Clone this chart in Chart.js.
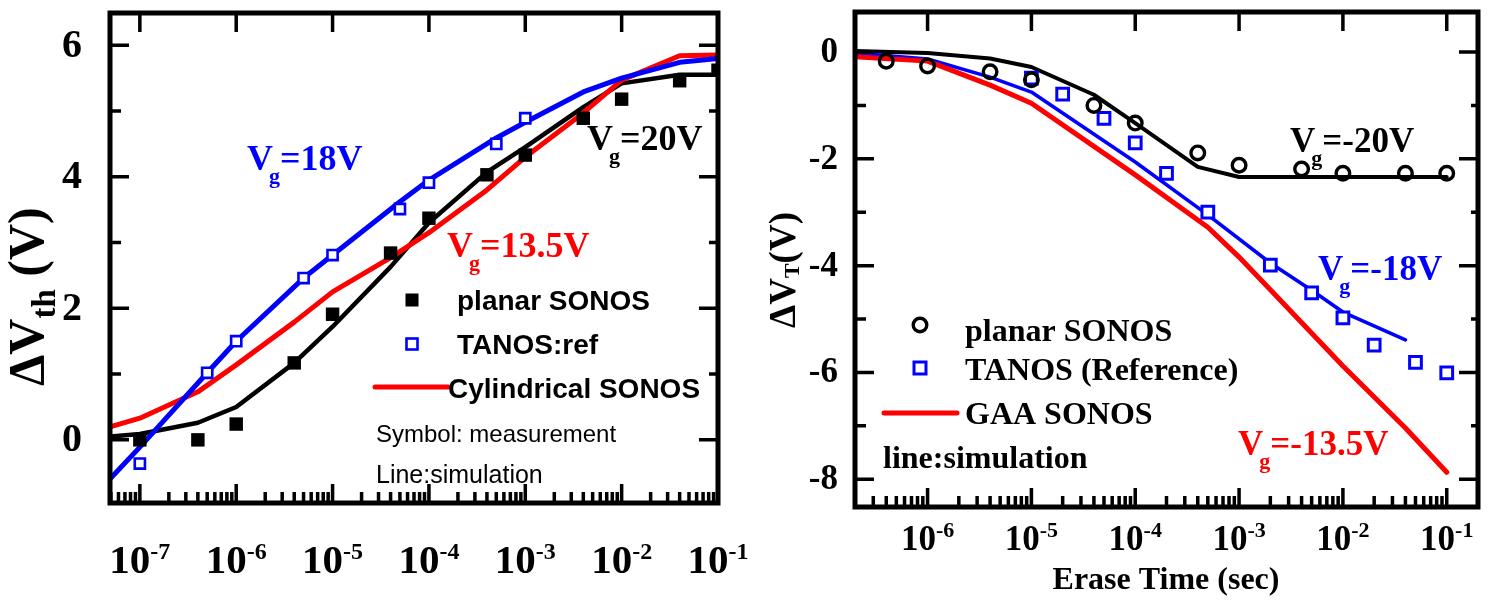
<!DOCTYPE html>
<html>
<head>
<meta charset="utf-8">
<script src="https://cdn.jsdelivr.net/npm/chart.js@4/dist/chart.umd.min.js"></script>
<style>
html, body { margin: 0; padding: 0; background: #fff; }
#wrap { position: relative; width: 1490px; height: 602px; }
canvas { position: absolute; left: 0; top: 0; }
</style>
</head>
<body>
<div id="wrap">
<canvas id="left" width="1490" height="602"></canvas>
<canvas id="right" width="1490" height="602"></canvas>
</div>
<script>
// ---- left panel : program, dVth vs time ----
let leftSimTime = [5e-8, 1e-7, 4e-7, 1e-6, 4e-6, 1e-5, 4e-5, 1e-4, 4e-4, 1e-3, 4e-3, 1e-2, 4e-2, 1e-1]
let leftPlanarSim = [0.05, 0.09, 0.26, 0.50, 1.17, 1.72, 2.63, 3.30, 4.07, 4.45, 5.06, 5.42, 5.55, 5.55]
let leftCylSim = [0.20, 0.33, 0.73, 1.14, 1.79, 2.25, 2.77, 3.15, 3.80, 4.30, 4.97, 5.47, 5.84, 5.85]
let leftTanosSimTime = [5e-8, 1e-7, 5e-7, 1e-6, 5e-6, 1e-5, 5e-5, 1e-4, 5e-4, 1e-3, 4e-3, 1e-2, 4e-2, 1e-1]
let leftTanosSim = [-0.58, -0.11, 1.02, 1.50, 2.46, 2.81, 3.62, 3.95, 4.59, 4.83, 5.29, 5.50, 5.74, 5.80]

let leftPlanarTime = [1e-7, 4e-7, 1e-6, 4e-6, 1e-5, 4e-5, 1e-4, 4e-4, 1e-3, 4e-3, 1e-2, 4e-2, 1e-1]
let leftPlanarMeas = [0, 0, 0.24, 1.17, 1.91, 2.84, 3.37, 4.03, 4.33, 4.89, 5.18, 5.46, 5.62]
let leftTanosTime = [1e-7, 5e-7, 1e-6, 5e-6, 1e-5, 5e-5, 1e-4, 5e-4, 1e-3]
let leftTanosMeas = [-0.36, 1.02, 1.50, 2.46, 2.81, 3.51, 3.91, 4.50, 4.89]

let leftXTicks = [1e-7, 1e-6, 1e-5, 1e-4, 1e-3, 1e-2, 1e-1]
let leftXExp = ['-7', '-6', '-5', '-4', '-3', '-2', '-1']
let leftYTicks = [0, 2, 4, 6]
let leftYLabels = ['0', '2', '4', '6']
let leftYMinor = [1, 3, 5]

// ---- right panel : erase, dVT vs erase time ----
let rightPlanarSimTime = [2e-7, 1e-6, 4e-6, 1e-5, 4e-5, 1e-4, 4e-4, 1e-3, 1e-2, 1e-1]
let rightPlanarSim = [0.02, -0.02, -0.12, -0.28, -0.80, -1.33, -2.15, -2.34, -2.34, -2.34]
let rightTanosSimTime = [2e-7, 1e-6, 4e-6, 1e-5, 1e-4, 5e-4, 2e-3, 5e-3, 1e-2, 4e-2]
let rightTanosSim = [-0.02, -0.13, -0.47, -0.75, -2.06, -3.05, -3.95, -4.46, -4.87, -5.39]
let rightGaaSimTime = [2e-7, 1e-6, 4e-6, 1e-5, 1e-4, 5e-4, 1e-3, 2e-3, 1e-2, 4e-2, 1e-1]
let rightGaaSim = [-0.09, -0.17, -0.62, -0.96, -2.30, -3.28, -3.84, -4.45, -5.88, -7.04, -7.87]

let rightPlanarTime = [4e-7, 1e-6, 4e-6, 1e-5, 4e-5, 1e-4, 4e-4, 1e-3, 4e-3, 1e-2, 4e-2, 1e-1]
let rightPlanarMeas = [-0.17, -0.26, -0.37, -0.52, -1.0, -1.33, -1.89, -2.12, -2.19, -2.27, -2.27, -2.27]
let rightTanosTime = [1e-5, 2e-5, 5e-5, 1e-4, 2e-4, 5e-4, 2e-3, 5e-3, 1e-2, 2e-2, 5e-2, 1e-1]
let rightTanosMeas = [-0.49, -0.79, -1.24, -1.70, -2.27, -3.0, -3.99, -4.51, -4.98, -5.49, -5.81, -6.01]

let rightXTicks = [1e-6, 1e-5, 1e-4, 1e-3, 1e-2, 1e-1]
let rightXExp = ['-6', '-5', '-4', '-3', '-2', '-1']
let rightYTicks = [0, -2, -4, -6, -8]
let rightYLabels = ['0', '-2', '-4', '-6', '-8']
let rightYMinor = [-1, -3, -5, -7]

let SERIF = '"Liberation Serif", "Times New Roman", serif'
let SANS = '"Liberation Sans", Arial, sans-serif'

function pts(xs, ys) {
    return xs.map((x, i) => ({ x: x, y: ys[i] }))
}

function lineSet(label, xs, ys, color, width, order) {
    return {
        label: label, data: pts(xs, ys), showLine: true, pointRadius: 0,
        borderColor: color, borderWidth: width, borderJoinStyle: 'round', borderCapStyle: 'round',
        tension: 0, order: order
    }
}

function markSet(label, xs, ys, style, radius, fill, stroke, width) {
    return {
        label: label, data: pts(xs, ys), showLine: false, pointStyle: style, pointRadius: radius,
        pointBackgroundColor: fill, pointBorderColor: stroke, pointBorderWidth: width, order: 0
    }
}

// V with subscript g, then the rest
function vgText(ctx, x, y, rest, color, size) {
    ctx.fillStyle = color
    ctx.textAlign = 'left'
    ctx.textBaseline = 'alphabetic'
    ctx.font = 'bold ' + size + 'px ' + SERIF
    ctx.fillText('V', x, y)
    let w = ctx.measureText('V').width - 4
    ctx.font = 'bold ' + Math.round(size * 0.62) + 'px ' + SERIF
    ctx.fillText('g', x + w, y + 13)
    w += ctx.measureText('g').width
    ctx.font = 'bold ' + size + 'px ' + SERIF
    ctx.fillText(rest, x + w, y)
}

function axesPlugin(cfg) {
    return {
        id: 'axes' + cfg.name,
        afterDatasetsDraw(chart) {
            let ctx = chart.ctx, a = chart.chartArea
            let xs = chart.scales.x, ys = chart.scales.y
            ctx.save()
            ctx.strokeStyle = '#000'
            ctx.lineCap = 'butt'
            ctx.lineWidth = 3.5
            ctx.beginPath()
            cfg.xTicks.forEach(v => {
                let px = xs.getPixelForValue(v)
                ctx.moveTo(px, a.bottom); ctx.lineTo(px, a.bottom - cfg.tick[0])
                ctx.moveTo(px, a.top); ctx.lineTo(px, a.top + cfg.tick[0])
            })
            let lo = Math.floor(Math.log10(xs.min)), hi = Math.ceil(Math.log10(xs.max))
            for (let e = lo; e <= hi; e++) {
                for (let k = 2; k <= 9; k++) {
                    let v = k * Math.pow(10, e)
                    if (v <= xs.min || v >= xs.max) continue
                    let px = xs.getPixelForValue(v)
                    ctx.moveTo(px, a.bottom); ctx.lineTo(px, a.bottom - cfg.tick[1])
                }
            }
            cfg.yTicks.forEach(v => {
                let py = ys.getPixelForValue(v)
                ctx.moveTo(a.left, py); ctx.lineTo(a.left + cfg.tick[0], py)
                ctx.moveTo(a.right, py); ctx.lineTo(a.right - cfg.tick[0], py)
            })
            cfg.yMinor.forEach(v => {
                let py = ys.getPixelForValue(v)
                ctx.moveTo(a.left, py); ctx.lineTo(a.left + cfg.tick[1], py)
                ctx.moveTo(a.right, py); ctx.lineTo(a.right - cfg.tick[2], py)
            })
            ctx.stroke()
            ctx.lineWidth = 5
            ctx.strokeRect(a.left, a.top, a.right - a.left, a.bottom - a.top)
            ctx.restore()
        },
        afterDraw(chart) {
            let ctx = chart.ctx, a = chart.chartArea
            let xs = chart.scales.x, ys = chart.scales.y
            ctx.save()
            ctx.fillStyle = '#000'
            ctx.textBaseline = 'alphabetic'
            // x tick labels 10^n
            cfg.xTicks.forEach((v, i) => {
                let px = xs.getPixelForValue(v)
                ctx.font = 'bold ' + cfg.xFont + 'px ' + SERIF
                let wb = ctx.measureText('10').width
                ctx.font = 'bold ' + cfg.expFont + 'px ' + SERIF
                let we = ctx.measureText(cfg.xExp[i]).width
                let x0 = px - (wb + we) / 2
                ctx.textAlign = 'left'
                ctx.font = 'bold ' + cfg.xFont + 'px ' + SERIF
                ctx.fillText('10', x0, cfg.xBase)
                ctx.font = 'bold ' + cfg.expFont + 'px ' + SERIF
                ctx.fillText(cfg.xExp[i], x0 + wb, cfg.xBase - cfg.expRaise)
            })
            // y tick labels
            ctx.textAlign = 'right'
            ctx.textBaseline = 'middle'
            ctx.font = 'bold ' + cfg.yFont + 'px ' + SERIF
            cfg.yTicks.forEach((v, i) => {
                ctx.fillText(cfg.yLabels[i], cfg.yRight, ys.getPixelForValue(v) + 1)
            })
            ctx.textBaseline = 'alphabetic'
            ctx.textAlign = 'left'
            cfg.extra(ctx, a)
            ctx.restore()
        }
    }
}

// rotated y title: parts drawn along the axis
function yTitle(ctx, x, y, parts) {
    ctx.save()
    ctx.translate(x, y)
    ctx.rotate(-Math.PI / 2)
    ctx.fillStyle = '#000'
    ctx.textAlign = 'left'
    ctx.textBaseline = 'alphabetic'
    let cx = 0
    parts.forEach(p => {
        ctx.font = 'bold ' + p.size + 'px ' + SERIF
        ctx.fillText(p.text, cx, p.shift || 0)
        cx += ctx.measureText(p.text).width
    })
    ctx.restore()
}

function baseOptions(pad, xmin, xmax, ymin, ymax) {
    return {
        responsive: false,
        animation: false,
        devicePixelRatio: 1,
        layout: { padding: pad },
        plugins: { legend: { display: false }, tooltip: { enabled: false } },
        scales: {
            x: { type: 'logarithmic', min: xmin, max: xmax, display: false },
            y: { type: 'linear', min: ymin, max: ymax, display: false }
        }
    }
}

// ---------- left chart ----------
let leftChart = new Chart(document.getElementById('left').getContext('2d'), {
    type: 'scatter',
    data: {
        datasets: [
            markSet('planar SONOS', leftPlanarTime, leftPlanarMeas, 'rect', 9.5, '#000', '#000', 0),
            markSet('TANOS:ref', leftTanosTime, leftTanosMeas, 'rect', 7.2, '#fff', '#0000ff', 2.6),
            lineSet('planar sim', leftSimTime, leftPlanarSim, '#000', 4.5, 3),
            lineSet('Cylindrical SONOS', leftSimTime, leftCylSim, '#ff0000', 5, 2),
            lineSet('TANOS sim', leftTanosSimTime, leftTanosSim, '#0000ff', 5, 1)
        ]
    },
    options: baseOptions({ left: 110, top: 13, right: 1490 - 718, bottom: 602 - 503 }, 4.9e-8, 1e-1, -0.96, 6.49),
    plugins: [axesPlugin({
        name: 'L', xTicks: leftXTicks, xExp: leftXExp, yTicks: leftYTicks, yLabels: leftYLabels, yMinor: leftYMinor,
        tick: [19, 11, 9], xFont: 41, expFont: 24, expRaise: 14, xBase: 573, yFont: 40, yRight: 82,
        extra(ctx, a) {
            yTitle(ctx, 43, 386, [
                { text: '\u0394V', size: 50 },
                { text: 'th', size: 33, shift: 12 },
                { text: ' (V)', size: 50 }
            ])
            vgText(ctx, 247, 170, '=18V', '#0000ff', 36)
            vgText(ctx, 587, 150, '=20V', '#000', 36)
            vgText(ctx, 447, 257, '=13.5V', '#ff0000', 36)
            // legend
            ctx.fillStyle = '#000'
            ctx.fillRect(405.5, 293.5, 13, 13)
            ctx.fillStyle = '#fff'
            ctx.strokeStyle = '#0000ff'
            ctx.lineWidth = 2.6
            ctx.fillRect(406.5, 338.5, 11, 11)
            ctx.strokeRect(406.5, 338.5, 11, 11)
            ctx.strokeStyle = '#ff0000'
            ctx.lineWidth = 5
            ctx.lineCap = 'round'
            ctx.beginPath(); ctx.moveTo(375, 387); ctx.lineTo(448, 387); ctx.stroke()
            ctx.fillStyle = '#000'
            ctx.font = 'bold 28px ' + SANS
            ctx.fillText('planar SONOS', 457, 310)
            ctx.fillText('TANOS:ref', 457, 354)
            ctx.fillText('Cylindrical SONOS', 448, 398)
            ctx.font = '24px ' + SANS
            ctx.fillText('Symbol: measurement', 376, 442)
            ctx.font = '25px ' + SANS
            ctx.fillText('Line:simulation', 376, 483)
        }
    })]
})

// ---------- right chart ----------
let rightChart = new Chart(document.getElementById('right').getContext('2d'), {
    type: 'scatter',
    data: {
        datasets: [
            markSet('planar SONOS', rightPlanarTime, rightPlanarMeas, 'circle', 6.8, 'rgba(0,0,0,0)', '#000', 3.4),
            markSet('TANOS (Reference)', rightTanosTime, rightTanosMeas, 'rect', 8.3, '#fff', '#0000ff', 3),
            lineSet('planar sim', rightPlanarSimTime, rightPlanarSim, '#000', 4, 3),
            lineSet('TANOS sim', rightTanosSimTime, rightTanosSim, '#0000ff', 3.6, 2),
            lineSet('GAA SONOS', rightGaaSimTime, rightGaaSim, '#ff0000', 5, 1)
        ]
    },
    options: baseOptions({ left: 855, top: 12, right: 1490 - 1478, bottom: 602 - 507 }, 2e-7, 0.2, -8.52, 0.75),
    plugins: [axesPlugin({
        name: 'R', xTicks: rightXTicks, xExp: rightXExp, yTicks: rightYTicks, yLabels: rightYLabels, yMinor: rightYMinor,
        tick: [19, 11, 7], xFont: 35, expFont: 22, expRaise: 13, xBase: 550, yFont: 35, yRight: 838,
        extra(ctx, a) {
            yTitle(ctx, 795, 328, [
                { text: '\u0394V', size: 37 },
                { text: 'T', size: 22, shift: 4 },
                { text: '(V)', size: 37 }
            ])
            ctx.fillStyle = '#000'
            ctx.textAlign = 'center'
            ctx.font = 'bold 32px ' + SERIF
            ctx.fillText('Erase Time (sec)', 1166, 589)
            ctx.textAlign = 'left'
            vgText(ctx, 1290, 152, '=-20V', '#000', 35)
            vgText(ctx, 1318, 280, '=-18V', '#0000ff', 35)
            vgText(ctx, 1238, 455, '=-13.5V', '#ff0000', 35)
            // legend
            ctx.strokeStyle = '#000'
            ctx.lineWidth = 3.4
            ctx.beginPath(); ctx.arc(920, 325, 6.8, 0, Math.PI * 2); ctx.stroke()
            ctx.strokeStyle = '#0000ff'
            ctx.lineWidth = 3
            ctx.strokeRect(914, 362, 12, 12)
            ctx.strokeStyle = '#ff0000'
            ctx.lineWidth = 5
            ctx.lineCap = 'round'
            ctx.beginPath(); ctx.moveTo(884, 413); ctx.lineTo(957, 413); ctx.stroke()
            ctx.fillStyle = '#000'
            ctx.font = 'bold 32px ' + SERIF
            ctx.fillText('planar SONOS', 965, 341)
            ctx.fillText('TANOS (Reference)', 965, 380)
            ctx.fillText('GAA SONOS', 965, 424)
            ctx.fillText('line:simulation', 883, 468)
        }
    })]
})
</script>
</body>
</html>
